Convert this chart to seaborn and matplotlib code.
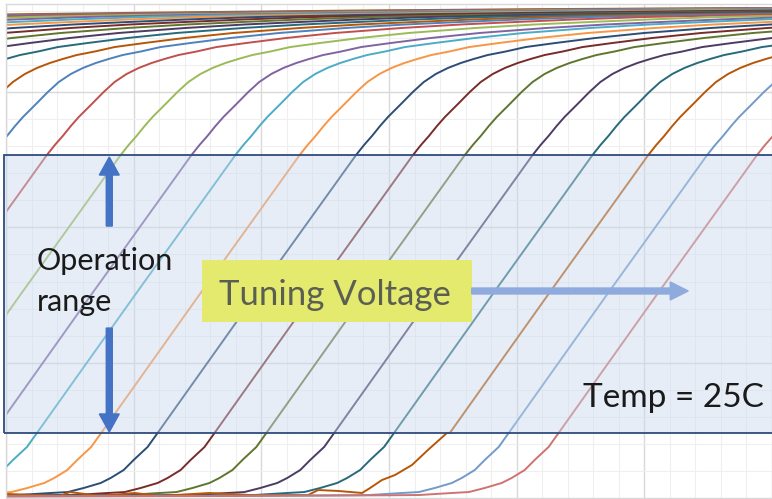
import numpy as np
import pandas as pd
import matplotlib
matplotlib.use('Agg')
import matplotlib.pyplot as plt
import matplotlib.patches as patches
import seaborn as sns

# shape of one curve (voltage offset from the point where it
# crosses the top of the operation box, and the output level)
profile_dv = [-7.0, -4.0, -2.9, -2.648, -2.391, -2.258, -2.133, -2.0, -1.922, -1.820,
              -1.742, -1.633, -1.555, -0.781, 0.0, 0.0625, 0.125, 0.1875, 0.25, 0.352,
              0.445, 0.531, 0.625, 0.719, 0.820, 0.922, 1.031, 1.172, 1.328, 1.5625,
              1.875, 2.258, 2.781, 3.25, 3.672, 4.141, 4.688, 5.469, 7.031, 8.594,
              10.156, 11.875, 13.28]
profile_amp = [0.010, 0.015, 0.020, 0.022, 0.037, 0.044, 0.074, 0.111, 0.148, 0.207,
               0.281, 0.377, 0.480, 1.508, 2.535, 2.609, 2.676, 2.749, 2.816, 2.912,
               3.001, 3.075, 3.134, 3.178, 3.215, 3.245, 3.274, 3.300, 3.333, 3.363,
               3.400, 3.437, 3.474, 3.500, 3.518, 3.537, 3.555, 3.570, 3.588, 3.603,
               3.614, 3.622, 3.625]

# where each curve crosses the top of the box (volts), left to right
shift_v = [-5.844, -5.398, -4.953, -4.508, -4.063, -3.617, -3.172, -2.719, -2.273, -1.828,
           -1.375, -0.922, -0.477, -0.117, 0.320, 0.898, 1.453, 1.797, 2.30, 2.742,
           3.188, 3.594, 4.125, 4.594, 5.031, 5.492, 5.883]
curve_colors = ['#B65708', '#4F81BD', '#C0504D', '#9BBB59', '#8064A2', '#4BACC6', '#F79646',
                '#2C4D75', '#772C2A', '#5F7530', '#4D3B62', '#276A7C', '#B65708',
                '#4F81BD', '#C0504D', '#9BBB59', '#8064A2', '#4BACC6', '#F79646',
                '#2C4D75', '#772C2A', '#5F7530', '#4D3B62', '#276A7C', '#B65708',
                '#729ACA', '#CD7371']

# the dark orange curve has a noisy foot, read separately
orange_idx = 24
orange_foot_v = [0.0, 0.422, 0.5, 0.734, 1.008, 1.203, 1.594, 1.906, 2.211, 2.367, 2.445,
                 2.602, 2.789, 2.852, 2.945, 3.047, 3.180, 3.305, 3.453]
orange_foot_amp = [0.030, 0.015, 0.044, 0.015, 0.037, 0.015, 0.037, 0.022, 0.022, 0.022,
                   0.059, 0.052, 0.037, 0.074, 0.133, 0.170, 0.244, 0.355, 0.480]

rows = []
for i, s in enumerate(shift_v):
    if i == orange_idx:
        for v, a in zip(orange_foot_v, orange_foot_amp):
            rows.append({'curve': i, 'volt': v, 'amp': a})
    for dv, a in zip(profile_dv, profile_amp):
        if i == orange_idx and s + dv <= orange_foot_v[-1]:
            continue
        rows.append({'curve': i, 'volt': s + dv, 'amp': a})
df = pd.DataFrame(rows)

sns.set_style('white')
plt.rcParams['font.family'] = ['Lato', 'DejaVu Sans']

fig = plt.figure(figsize=(7.72, 4.99), dpi=100)
ax = fig.add_axes([6 / 772, 0, 1 - 6 / 772, 495 / 499])

sns.lineplot(data=df, x='volt', y='amp', hue='curve', palette=curve_colors,
             legend=False, lw=1.4, ax=ax, zorder=2, sort=False, estimator=None)

ax.set_xlim(0, 766 / 128)
ax.set_ylim(-1 / 135.3, 494 / 135.3)
ax.set_xticks(np.arange(0, 7, 1))
ax.set_yticks(np.arange(0, 4, 1))
ax.set_xticks(np.arange(0, 6.01, 0.2), minor=True)
ax.set_yticks(np.arange(0, 3.8, 0.2), minor=True)
ax.grid(which='major', color='#D9D9D9', lw=1.0, zorder=0)
ax.grid(which='minor', color='#EFEFEF', lw=0.8, zorder=0)
ax.set_axisbelow(True)
ax.tick_params(which='both', length=0, labelbottom=False, labelleft=False)
ax.set_xlabel('')
ax.set_ylabel('')
for side in ['bottom', 'right']:
    ax.spines[side].set_visible(False)
for side in ['top', 'left']:
    ax.spines[side].set_color('#D9D9D9')
    ax.spines[side].set_linewidth(1.0)

# operation range box
box = patches.Rectangle((-0.016, 0.480), 6.2, 2.055, facecolor='#C9D9EE', alpha=0.45,
                        edgecolor='none', zorder=3, clip_on=False)
ax.add_patch(box)
edge = patches.Rectangle((-0.016, 0.480), 6.2, 2.055, facecolor='none',
                         edgecolor='#2F4B7C', lw=1.3, zorder=3.5, clip_on=False)
ax.add_patch(edge)

# vertical arrows
ax.add_patch(patches.FancyArrow(0.809, 2.010, 0, 0.510, width=0.047, head_width=0.156,
                                head_length=0.133, length_includes_head=True,
                                color='#4472C4', zorder=5))
ax.add_patch(patches.FancyArrow(0.809, 1.256, 0, -0.768, width=0.047, head_width=0.156,
                                head_length=0.133, length_includes_head=True,
                                color='#4472C4', zorder=5))
ax.text(0.242, 1.685, 'Operation', fontsize=22, color='#1A1A1A', va='baseline', zorder=6)
ax.text(0.242, 1.382, 'range', fontsize=22, color='#1A1A1A', va='baseline', zorder=6)

# tuning voltage label and arrow
ax.add_patch(patches.Rectangle((1.539, 1.301), 2.109, 0.458, facecolor='#E4EA6E',
                               edgecolor='none', zorder=5))
ax.text(1.672, 1.426, 'Tuning Voltage', fontsize=25, color='#5A5F52', va='baseline',
        zorder=6)
ax.add_patch(patches.FancyArrow(3.648, 1.530, 1.696, 0, width=0.044, head_width=0.133,
                                head_length=0.141, length_includes_head=True,
                                color='#8FAADC', zorder=5))

ax.text(4.523, 0.673, 'Temp = 25C', fontsize=24, color='#1A1A1A', va='baseline', zorder=6)

fig.savefig('out.png', dpi=100)
